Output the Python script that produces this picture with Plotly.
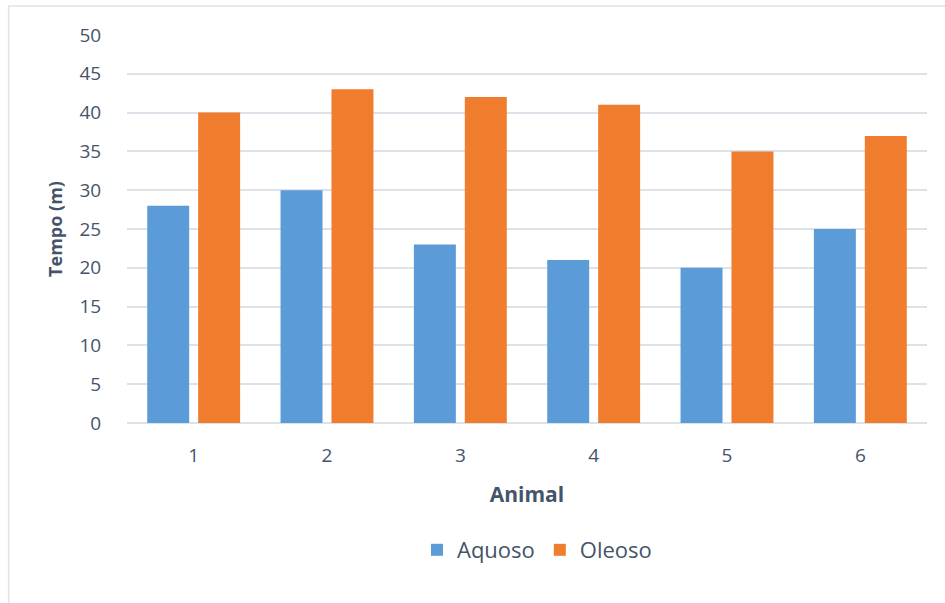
import plotly.graph_objects as go

# Tempo por animal para as duas formulações
animais = ["1", "2", "3", "4", "5", "6"]
aquoso = [28, 30, 23, 21, 20, 25]
oleoso = [40, 43, 42, 41, 35, 37]
y_ticks = [0, 5, 10, 15, 20, 25, 30, 35, 40, 45, 50]

TEXT = "#44546A"
GRID = "#DDE2E8"
FONT = "Open Sans"

fig = go.Figure()
fig.add_trace(go.Bar(x=animais, y=aquoso, name="Aquoso",
                     marker=dict(color="#5B9BD8", line=dict(width=0))))
fig.add_trace(go.Bar(x=animais, y=oleoso, name="Oleoso",
                     marker=dict(color="#F07D2E", line=dict(width=0))))

W, H = 945, 603
L, R, T, B = 126.5, 17.5, 35, 180
pw, ph = W - L - R, H - T - B


def px_x(px):
    return (px - L) / pw


def px_y(py):
    return (H - B - py) / ph


# outer chart-area frame
fig.add_shape(type="rect", xref="paper", yref="paper",
              x0=px_x(8), x1=px_x(W + 20), y0=px_y(H + 20), y1=px_y(6),
              line=dict(color="#DDE3EA", width=1.5), fillcolor="rgba(0,0,0,0)",
              layer="below")

fig.update_layout(
    width=W, height=H,
    margin=dict(l=L, r=R, t=T, b=B, pad=0),
    paper_bgcolor="white", plot_bgcolor="white",
    barmode="group", bargap=0.236, bargroupgap=0.176,
    font=dict(family=FONT, color=TEXT, size=19),
    showlegend=True,
    legend=dict(orientation="h", x=px_x(537), xanchor="center",
                y=px_y(550), yanchor="middle",
                font=dict(size=22, color=TEXT), itemwidth=30,
                bgcolor="rgba(0,0,0,0)"),
    xaxis=dict(
        type="category", showgrid=False, zeroline=False,
        showline=False, ticks="outside", ticklen=15, tickcolor="rgba(0,0,0,0)",
        tickfont=dict(size=19, color=TEXT),
        title=dict(text="<b>Animal</b>", font=dict(size=21, color=TEXT), standoff=20),
    ),
    yaxis=dict(
        range=[0, 50], tickvals=y_ticks, showgrid=True, gridcolor=GRID, gridwidth=2,
        zeroline=True, zerolinecolor=GRID, zerolinewidth=2, showline=False,
        ticks="outside", ticklen=21, tickcolor="rgba(0,0,0,0)",
        tickfont=dict(size=19, color=TEXT),
        title=dict(text="<b>Tempo (m)</b>", font=dict(size=18, color=TEXT), standoff=12),
    ),
)

fig.write_html("out.html")
